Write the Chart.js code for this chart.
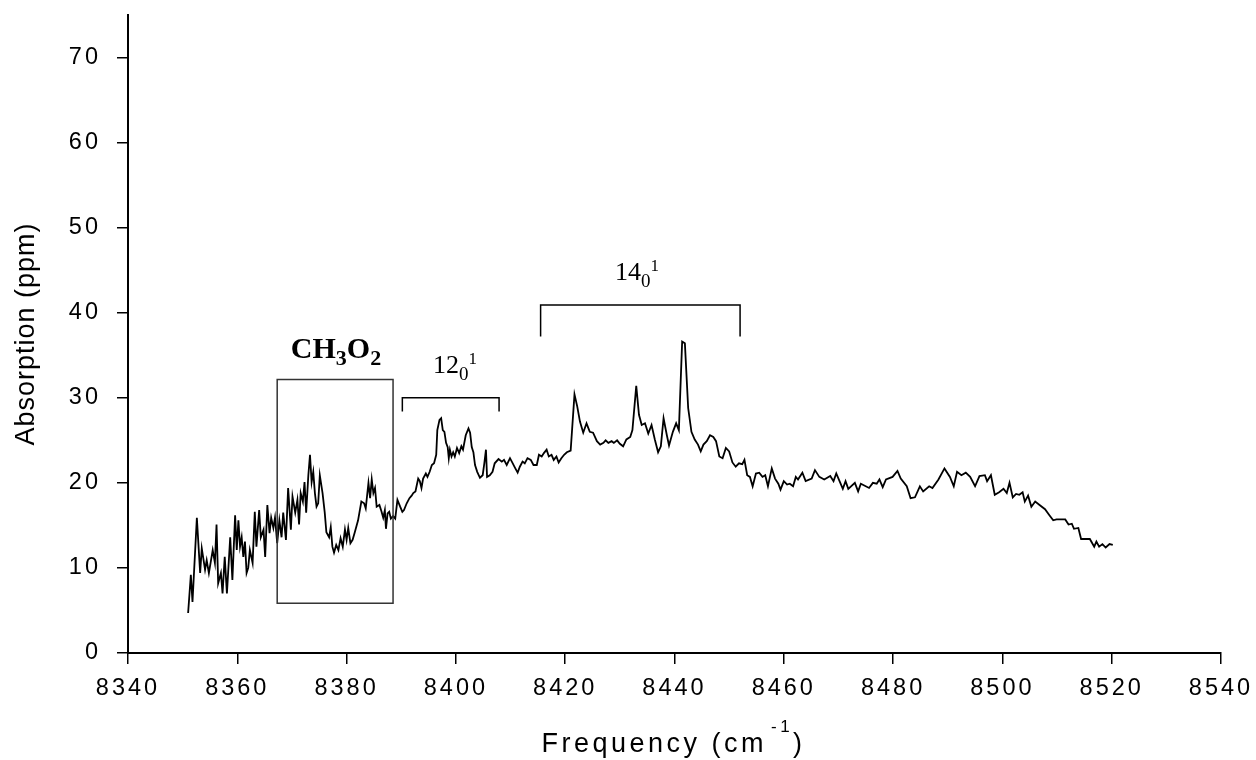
<!DOCTYPE html>
<html>
<head>
<meta charset="utf-8">
<script src="https://cdn.jsdelivr.net/npm/chart.js@4.4.0/dist/chart.umd.min.js"></script>
<style>
  html, body { margin: 0; padding: 0; background: #fff; }
</style>
</head>
<body>
<canvas id="myChart" width="1256" height="760"></canvas>
<script>
//Datos del espectro
var frecuencia = [
  8351.0, 8351.5, 8351.8, 8352.6, 8353.2, 8353.5, 8354.1, 8354.4, 8354.8, 8355.5,
  8355.9, 8356.2, 8356.5, 8357.0, 8357.3, 8357.7, 8358.1, 8358.7, 8359.1, 8359.6,
  8359.9, 8360.2, 8360.5, 8360.8, 8361.1, 8361.4, 8361.7, 8362.0, 8362.3, 8362.8,
  8363.2, 8363.5, 8364.0, 8364.3, 8364.8, 8365.1, 8365.5, 8365.9, 8366.2, 8366.6,
  8366.9, 8367.3, 8367.7, 8368.1, 8368.4, 8368.9, 8369.3, 8369.8, 8370.1, 8370.6,
  8371.0, 8371.3, 8371.6, 8372.0, 8372.3, 8372.6, 8373.0, 8373.3, 8373.6, 8373.9,
  8374.2, 8374.5, 8374.8, 8375.1, 8375.6, 8376.0, 8376.3, 8376.8, 8377.1, 8377.4,
  8377.7, 8378.1, 8378.5, 8378.9, 8379.3, 8379.7, 8380.0, 8380.3, 8380.7, 8381.1,
  8381.5, 8382.1, 8382.7, 8383.2, 8383.5, 8384.0, 8384.3, 8384.6, 8384.9, 8385.2,
  8385.5, 8386.0, 8386.4, 8386.7, 8387.0, 8387.2, 8387.5, 8387.8, 8388.1, 8388.5,
  8388.9, 8389.3, 8389.8, 8390.2, 8390.5, 8391.0, 8391.5, 8391.9, 8392.2, 8392.6,
  8392.8, 8393.1, 8393.4, 8393.7, 8394.0, 8394.5, 8394.8, 8395.2, 8395.6, 8396.0,
  8396.4, 8396.6, 8397.0, 8397.3, 8397.6, 8397.9, 8398.2, 8398.5, 8398.7, 8398.9,
  8399.2, 8399.5, 8399.8, 8400.2, 8400.6, 8401.0, 8401.3, 8401.8, 8402.3, 8402.6,
  8402.9, 8403.2, 8403.5, 8403.9, 8404.4, 8404.9, 8405.2, 8405.5, 8405.7, 8406.2,
  8406.7, 8407.1, 8407.8, 8408.4, 8408.8, 8409.3, 8409.9, 8410.4, 8410.8, 8411.3,
  8411.7, 8412.2, 8412.6, 8413.1, 8413.7, 8414.2, 8414.8, 8415.2, 8415.7, 8416.1,
  8416.6, 8417.0, 8417.5, 8417.9, 8418.4, 8418.8, 8419.3, 8419.8, 8420.3, 8421.0,
  8421.7, 8422.2, 8422.7, 8423.3, 8423.9, 8424.5, 8425.1, 8425.8, 8426.4, 8427.0,
  8427.4, 8427.9, 8428.5, 8428.9, 8429.5, 8430.0, 8430.6, 8431.2, 8431.9, 8432.3,
  8433.0, 8433.5, 8434.0, 8434.6, 8435.2, 8435.8, 8436.4, 8437.0, 8437.5, 8438.0,
  8438.6, 8439.0, 8439.7, 8440.3, 8440.8, 8441.4, 8441.9, 8442.5, 8443.1, 8443.7,
  8444.3, 8444.8, 8445.3, 8445.9, 8446.5, 8447.1, 8447.6, 8448.2, 8448.8, 8449.4,
  8450.0, 8450.6, 8451.2, 8451.8, 8452.4, 8452.8, 8453.3, 8453.8, 8454.3, 8454.9,
  8455.5, 8456.1, 8456.6, 8457.1, 8457.8, 8458.4, 8459.0, 8459.4, 8460.0, 8460.6,
  8461.1, 8461.7, 8462.2, 8462.6, 8463.4, 8464.0, 8465.1, 8465.7, 8466.5, 8467.4,
  8468.5, 8469.1, 8469.6, 8470.2, 8470.8, 8471.3, 8471.8, 8473.0, 8473.6, 8474.1,
  8475.6, 8476.3, 8477.0, 8477.5, 8478.1, 8478.7, 8479.9, 8480.8, 8481.4, 8482.5,
  8483.2, 8484.0, 8484.9, 8485.5, 8486.6, 8487.2, 8488.3, 8489.4, 8490.4, 8491.1,
  8491.7, 8492.5, 8493.3, 8494.1, 8495.0, 8495.8, 8496.8, 8497.2, 8497.9, 8498.6,
  8499.4, 8500.2, 8500.8, 8501.3, 8501.9, 8502.5, 8503.1, 8503.7, 8504.1, 8504.7,
  8505.3, 8506.0, 8506.8, 8507.8, 8508.6, 8509.3, 8509.9, 8511.5, 8512.1, 8512.7,
  8513.1, 8513.9, 8514.4, 8516.0, 8516.8, 8517.2, 8517.7, 8518.3, 8518.9, 8519.6,
  8520.2
];
var absorcion = [
  4.7, 9.2, 6.0, 15.9, 9.4, 12.3, 9.8, 10.9, 9.4, 12.1,
  10.6, 15.1, 8.2, 9.4, 7.0, 11.3, 7.0, 13.6, 8.6, 16.2,
  12.1, 15.6, 12.5, 13.6, 11.3, 13.1, 9.4, 10.0, 12.1, 10.6,
  16.6, 12.5, 16.8, 13.6, 14.5, 11.3, 17.4, 14.1, 15.9, 14.7,
  15.9, 12.9, 15.6, 13.6, 16.5, 13.3, 19.4, 14.5, 18.4, 16.5,
  18.0, 15.1, 18.8, 17.8, 20.1, 16.5, 20.9, 23.3, 20.1, 21.3,
  18.8, 17.2, 17.6, 20.9, 18.8, 16.5, 14.2, 13.6, 14.8, 12.5,
  11.8, 12.7, 12.1, 13.5, 12.5, 14.5, 13.3, 14.7, 12.9, 13.3,
  14.2, 15.6, 17.8, 17.6, 17.0, 20.0, 18.2, 20.4, 18.8, 19.4,
  17.2, 17.4, 16.6, 15.9, 16.8, 14.6, 16.4, 16.6, 15.8, 16.1,
  15.8, 18.0, 17.2, 16.6, 16.8, 17.6, 18.2, 18.5, 18.8, 19.0,
  19.6, 20.5, 20.2, 19.4, 20.5, 21.1, 20.7, 21.3, 22.1, 22.3,
  23.3, 26.2, 27.4, 27.6, 26.2, 26.0, 24.7, 24.2, 22.9, 23.9,
  23.1, 23.6, 23.1, 24.1, 23.5, 24.3, 23.9, 25.6, 26.4, 25.9,
  24.2, 23.6, 22.1, 21.3, 20.6, 20.9, 22.3, 23.9, 20.7, 20.9,
  21.3, 22.3, 22.8, 22.5, 22.7, 22.1, 22.9, 22.3, 21.8, 21.2,
  21.9, 22.5, 22.3, 22.9, 22.7, 22.1, 22.1, 23.3, 23.1, 23.5,
  23.9, 23.1, 23.3, 22.7, 23.1, 22.4, 22.9, 23.3, 23.6, 23.8,
  30.4, 29.0, 27.2, 25.9, 27.0, 26.0, 25.9, 24.9, 24.5, 24.7,
  25.0, 24.7, 24.9, 24.7, 25.0, 24.6, 24.3, 25.1, 25.4, 26.2,
  31.4, 28.0, 26.8, 27.0, 25.8, 26.8, 25.1, 23.6, 24.3, 27.6,
  25.6, 24.4, 26.0, 27.0, 26.2, 36.6, 36.4, 28.8, 26.0, 25.1,
  24.5, 23.7, 24.5, 24.9, 25.6, 25.4, 24.9, 23.1, 22.9, 24.1,
  23.7, 22.4, 21.9, 22.3, 22.2, 22.7, 20.9, 20.7, 19.6, 21.1,
  21.2, 20.7, 20.9, 19.6, 21.7, 20.5, 19.9, 19.2, 20.2, 19.8,
  19.9, 19.6, 20.7, 20.4, 21.2, 20.2, 20.5, 21.5, 20.7, 20.4,
  20.8, 20.2, 21.1, 20.2, 19.3, 20.2, 19.3, 20.0, 19.0, 19.9,
  19.4, 20.0, 19.9, 20.4, 19.5, 20.4, 20.7, 21.4, 20.5, 19.6,
  18.2, 18.3, 19.6, 19.0, 19.6, 19.4, 20.4, 21.7, 20.7, 19.6,
  21.3, 20.9, 21.2, 20.7, 19.6, 20.8, 20.9, 20.2, 20.9, 18.6,
  18.9, 19.3, 18.8, 20.0, 18.3, 18.7, 18.6, 18.9, 17.8, 18.5,
  17.2, 17.8, 17.4, 16.9, 16.2, 15.6, 15.7, 15.7, 15.1, 15.2,
  14.6, 14.7, 13.4, 13.4, 12.5, 13.1, 12.5, 12.8, 12.4, 12.8,
  12.7
];
var xTicks = [8340, 8360, 8380, 8400, 8420, 8440, 8460, 8480, 8500, 8520, 8540];
var yTicks = [0, 10, 20, 30, 40, 50, 60, 70];

//Anotaciones (en unidades de los ejes)
var caja = { x1: 8367.3, x2: 8388.5, y1: 5.85, y2: 32.15 };
var corchetes = [
  { x1: 8390.2, x2: 8407.9, y: 30.0, pie: 28.4 },
  { x1: 8415.5, x2: 8452.0, y: 40.9, pie: 37.2 }
];
var etiquetas = [
  { x: 8369.8, y: 34.7, size: 30, bold: true, partes: [['CH', 0], ['3', 1], ['O', 0], ['2', 1]] },
  { x: 8395.8, y: 32.9, size: 26, bold: false, partes: [['12', 0], ['0', 1], ['1', 2]] },
  { x: 8429.1, y: 43.9, size: 26, bold: false, partes: [['14', 0], ['0', 1], ['1', 2]] }
];

var puntos = frecuencia.map(function (f, i) { return { x: f, y: absorcion[i] }; });

var sans = '"Liberation Sans", Arial, sans-serif';
var serif = '"Liberation Serif", "Times New Roman", serif';

function dibujarEtiqueta(ctx, px, py, e) {
  var peso = e.bold ? 'bold ' : '';
  var x = px;
  e.partes.forEach(function (p) {
    var size = e.size, dy = 0;
    if (p[1] === 1) { size = Math.round(e.size * 0.72); dy = 7; }
    if (p[1] === 2) { size = Math.round(e.size * 0.65); dy = -9; }
    ctx.font = peso + size + 'px ' + serif;
    ctx.fillText(p[0], x, py + dy);
    x += ctx.measureText(p[0]).width;
  });
}

var extras = {
  id: 'extras',
  beforeDraw: function (chart) {
    chart.ctx.letterSpacing = '3px';
  },
  afterDraw: function (chart) {
    var ctx = chart.ctx;
    var xs = chart.scales.x, ys = chart.scales.y;
    var area = chart.chartArea;
    ctx.save();
    ctx.letterSpacing = '0px';

    //Caja CH3O2
    ctx.strokeStyle = '#333';
    ctx.lineWidth = 1.5;
    var bx1 = xs.getPixelForValue(caja.x1), bx2 = xs.getPixelForValue(caja.x2);
    var by1 = ys.getPixelForValue(caja.y2), by2 = ys.getPixelForValue(caja.y1);
    ctx.strokeRect(bx1, by1, bx2 - bx1, by2 - by1);

    //Corchetes
    ctx.strokeStyle = '#000';
    corchetes.forEach(function (c) {
      var a = xs.getPixelForValue(c.x1), b = xs.getPixelForValue(c.x2);
      var t = ys.getPixelForValue(c.y), p = ys.getPixelForValue(c.pie);
      ctx.beginPath();
      ctx.moveTo(a, p); ctx.lineTo(a, t); ctx.lineTo(b, t); ctx.lineTo(b, p);
      ctx.stroke();
    });

    //Etiquetas
    ctx.fillStyle = '#000';
    ctx.textBaseline = 'alphabetic';
    ctx.textAlign = 'left';
    etiquetas.forEach(function (e) {
      dibujarEtiqueta(ctx, xs.getPixelForValue(e.x), ys.getPixelForValue(e.y), e);
    });

    //Titulo eje X
    ctx.letterSpacing = '3.5px';
    ctx.font = '27px ' + sans;
    var t1 = 'Frequency (cm', t3 = ')';
    var w1 = ctx.measureText(t1).width, w3 = ctx.measureText(t3).width;
    ctx.font = '17px ' + sans;
    var w2 = ctx.measureText('-1').width;
    var x0 = (area.left + area.right) / 2 - (w1 + w2 + w3 + 6) / 2;
    var base = 752;
    ctx.font = '27px ' + sans;
    ctx.fillText(t1, x0, base);
    ctx.font = '17px ' + sans;
    ctx.fillText('-1', x0 + w1 + 4, base - 20);
    ctx.font = '27px ' + sans;
    ctx.fillText(t3, x0 + w1 + w2 + 4, base);

    //Titulo eje Y
    ctx.letterSpacing = '1px';
    ctx.font = '27px ' + sans;
    ctx.translate(27, (area.top + area.bottom) / 2);
    ctx.rotate(-Math.PI / 2);
    ctx.textAlign = 'center';
    ctx.textBaseline = 'middle';
    ctx.fillText('Absorption (ppm)', 0, 0);
    ctx.restore();
  }
};

var ctx = document.getElementById('myChart').getContext('2d');
var myChart = new Chart(ctx, {
  type: 'line',
  data: {
    datasets: [{
      data: puntos,
      borderColor: '#000',
      borderWidth: 1.8,
      pointRadius: 0,
      tension: 0,
      fill: false
    }]
  },
  options: {
    responsive: false,
    animation: false,
    layout: { padding: { top: 15, right: 35, left: 0, bottom: 0 } },
    plugins: { legend: { display: false }, tooltip: { enabled: false } },
    scales: {
      x: {
        type: 'linear',
        min: 8340,
        max: 8540,
        afterBuildTicks: function (s) { s.ticks = xTicks.map(function (v) { return { value: v }; }); },
        afterFit: function (s) { s.height = 107; s.paddingLeft = 0; s.paddingRight = 0; },
        grid: { drawOnChartArea: false, drawTicks: true, tickLength: 11, color: '#000', lineWidth: 1.5 },
        border: { display: true, color: '#000', width: 2 },
        ticks: {
          color: '#000', font: { family: sans, size: 23.5 }, padding: 10, maxRotation: 0, autoSkip: false,
          callback: function (v) { return String(v); }
        }
      },
      y: {
        min: 0,
        max: 75,
        afterBuildTicks: function (s) { s.ticks = yTicks.map(function (v) { return { value: v }; }); },
        afterFit: function (s) { s.width = 128; s.paddingTop = 0; s.paddingBottom = 0; },
        grid: { drawOnChartArea: false, drawTicks: true, tickLength: 11, color: '#000', lineWidth: 1.5 },
        border: { display: true, color: '#000', width: 2 },
        ticks: {
          color: '#000', font: { family: sans, size: 23.5 }, padding: 16, autoSkip: false,
          callback: function (v) { return String(v); }
        }
      }
    }
  },
  plugins: [extras]
});
</script>
</body>
</html>
